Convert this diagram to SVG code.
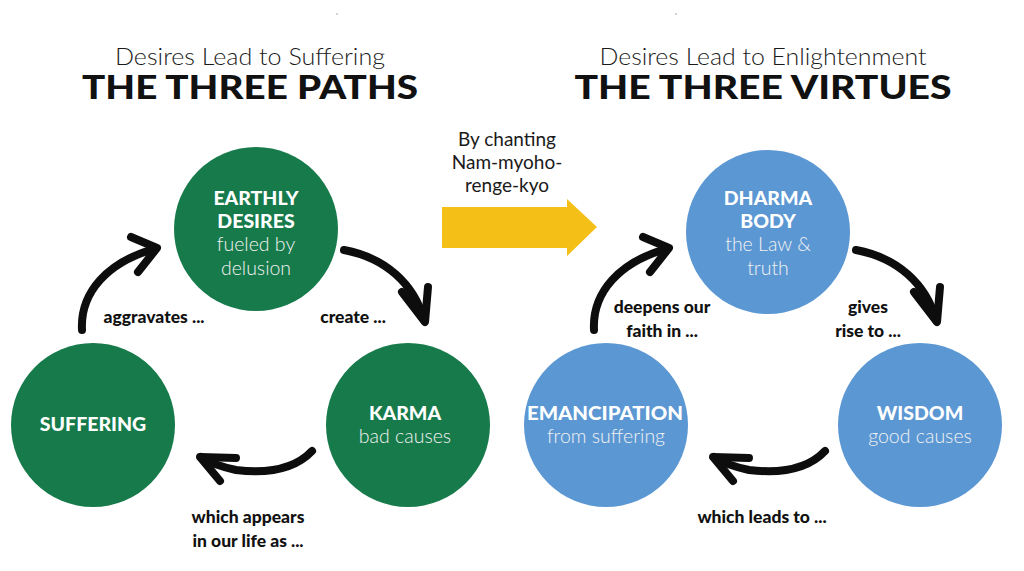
<svg xmlns="http://www.w3.org/2000/svg" xmlns:xlink="http://www.w3.org/1999/xlink" width="1024" height="571" viewBox="0 0 1024 571">
<style>
.sub{font-family:Lato,"Open Sans",sans-serif;font-weight:300;font-size:24px;fill:#1a1a1a;text-anchor:middle}
.ttl{font-family:Lato,"Liberation Sans",sans-serif;font-weight:900;font-size:32px;fill:#111;text-anchor:middle}
.nb{font-family:Lato,"Liberation Sans",sans-serif;font-weight:900;font-size:19.5px;fill:#fff;text-anchor:middle}
.nl{font-family:Lato,"Open Sans",sans-serif;font-weight:300;font-size:19.5px;fill:#f2f2f2;text-anchor:middle}
.lb{font-family:Lato,"Liberation Sans",sans-serif;font-weight:900;font-size:17.5px;fill:#111;text-anchor:middle}
.ch{font-family:Lato,"Open Sans",sans-serif;font-weight:400;font-size:19px;fill:#1a1a1a;text-anchor:middle}
.g{fill:#177a4b}
.b{fill:#5b97d3}
.arr{fill:none;stroke:#0d0d0d;stroke-width:8;stroke-linecap:round;stroke-linejoin:round}
</style>
<defs>
<g id="a1"><path d="M82,330 C80,292 108,262 154,249"/><path d="M131,237 L157,248 L138,272"/></g>
<g id="a2"><path d="M344,250 C386,258 414,284 424,320"/><path d="M402,292 L425,322 L428,287"/></g>
<g id="a3"><path d="M312,451 C296,468 270,474 236,470 C222,467 210,463 201,457"/><path d="M236,458 L200,457 L220,481"/></g>
</defs>
<rect width="1024" height="571" fill="#fff"/>
<circle cx="337" cy="14" r="0.8" fill="#999"/>
<circle cx="676" cy="14" r="0.8" fill="#999"/>
<g id="title-left">
<text class="sub" x="250" y="65" textLength="270" lengthAdjust="spacingAndGlyphs">Desires Lead to Suffering</text>
<text class="ttl" x="250" y="99" textLength="336" lengthAdjust="spacingAndGlyphs">THE THREE PATHS</text>
</g>
<g id="title-right">
<text class="sub" x="763" y="65" textLength="327" lengthAdjust="spacingAndGlyphs">Desires Lead to Enlightenment</text>
<text class="ttl" x="763" y="99" textLength="377" lengthAdjust="spacingAndGlyphs">THE THREE VIRTUES</text>
</g>
<g id="chanting">
<polygon points="442,207 567,207 567,199 597,227 567,256 567,248 442,248" fill="#f4bf17"/>
<text class="ch" x="507" y="146">By chanting</text>
<text class="ch" x="507" y="169">Nam-myoho-</text>
<text class="ch" x="507" y="192">renge-kyo</text>
</g>
<g id="earthly-desires">
<circle class="g" cx="256" cy="229" r="82"/>
<text class="nb" x="256" y="205">EARTHLY</text>
<text class="nb" x="256" y="228">DESIRES</text>
<text class="nl" x="256" y="251">fueled by</text>
<text class="nl" x="256" y="275">delusion</text>
</g>
<g id="karma">
<circle class="g" cx="408" cy="425" r="82"/>
<text class="nb" x="405" y="420">KARMA</text>
<text class="nl" x="405" y="443">bad causes</text>
</g>
<g id="suffering">
<circle class="g" cx="93" cy="425" r="82"/>
<text class="nb" x="93" y="431">SUFFERING</text>
</g>
<g id="dharma-body">
<circle class="b" cx="768" cy="232" r="82"/>
<text class="nb" x="768" y="205">DHARMA</text>
<text class="nb" x="768" y="228">BODY</text>
<text class="nl" x="768" y="251">the Law &amp;</text>
<text class="nl" x="768" y="275">truth</text>
</g>
<g id="wisdom">
<circle class="b" cx="920" cy="425" r="82"/>
<text class="nb" x="920" y="420">WISDOM</text>
<text class="nl" x="920" y="443">good causes</text>
</g>
<g id="emancipation">
<circle class="b" cx="606" cy="425" r="82"/>
<text class="nb" x="605" y="420" textLength="156" lengthAdjust="spacingAndGlyphs">EMANCIPATION</text>
<text class="nl" x="606" y="443">from suffering</text>
</g>
<g id="connectors" class="arr">
<use xlink:href="#a1"/>
<use xlink:href="#a2"/>
<use xlink:href="#a3"/>
<use xlink:href="#a1" transform="translate(512,0)"/>
<use xlink:href="#a2" transform="translate(512,0)"/>
<use xlink:href="#a3" transform="translate(513,0)"/>
</g>
<g id="labels">
<text class="lb" x="154" y="323">aggravates ...</text>
<text class="lb" x="353" y="323">create ...</text>
<text class="lb" x="248" y="523">which appears</text>
<text class="lb" x="248" y="547">in our life as ...</text>
<text class="lb" x="662" y="313">deepens our</text>
<text class="lb" x="662" y="337">faith in ...</text>
<text class="lb" x="868" y="313">gives</text>
<text class="lb" x="868" y="337">rise to ...</text>
<text class="lb" x="762" y="523">which leads to ...</text>
</g>
</svg>
